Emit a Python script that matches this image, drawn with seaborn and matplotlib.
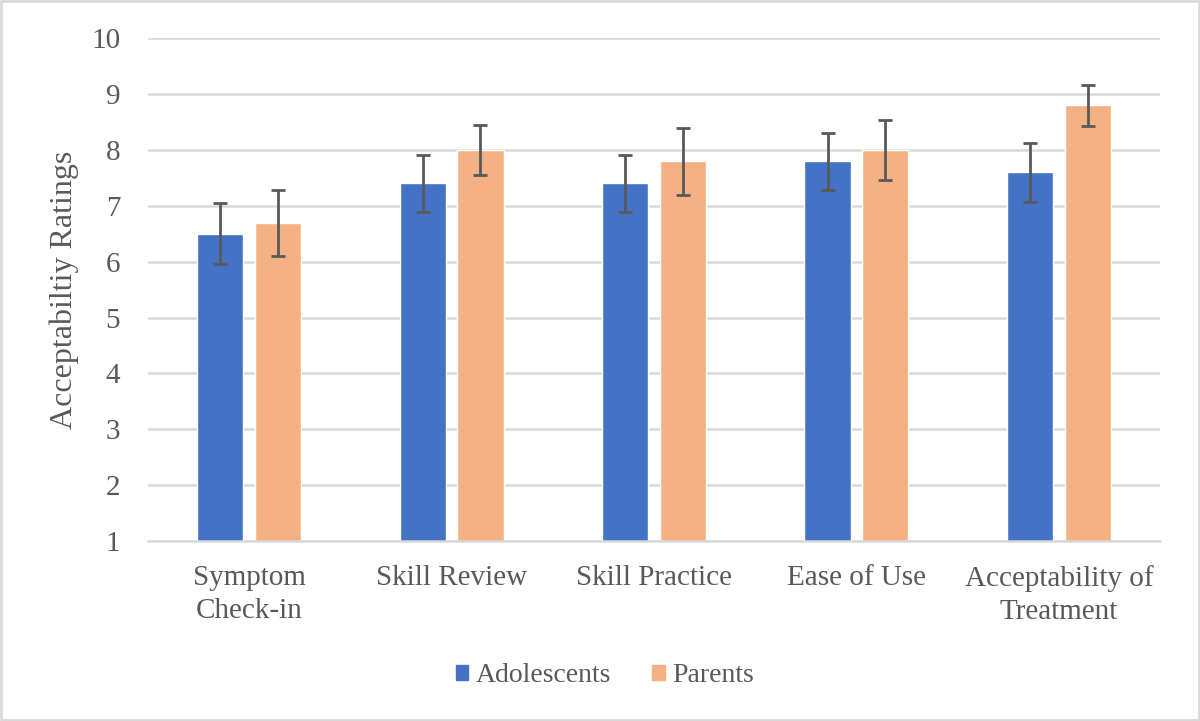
import matplotlib
matplotlib.use("Agg")
import matplotlib.pyplot as plt
from matplotlib.patches import Rectangle
import seaborn as sns
import pandas as pd

## Data
categories = ["Symptom\nCheck-in", "Skill Review", "Skill Practice", "Ease of Use", "Acceptability of\nTreatment"]
groups = ["Adolescents", "Parents"]
adolescent_means = [6.5, 7.4, 7.4, 7.8, 7.6]
parent_means = [6.7, 8.0, 7.8, 8.0, 8.8]
adolescent_err = [0.55, 0.51, 0.51, 0.51, 0.53]
parent_err = [0.59, 0.45, 0.60, 0.53, 0.37]
yticks = list(range(1, 11))

df = pd.DataFrame({
    "category": categories * 2,
    "group": [groups[0]] * len(categories) + [groups[1]] * len(categories),
    "rating": adolescent_means + parent_means,
})
errs = [adolescent_err, parent_err]

sns.set_theme(style="white")
plt.rcParams["font.family"] = ["Liberation Serif", "DejaVu Serif"]
text_col = "#595959"
grid_col = "#D9D9D9"

fig = plt.figure(figsize=(12, 7.21), dpi=100)
ax = fig.add_axes([0.1233, 0.2497, 0.8434, 0.6973])

#Grouped bars, error bars added afterwards from the read-off values
sns.barplot(data=df, x="category", y="rating", hue="group", order=categories, hue_order=groups,
            palette=["#4472C4", "#F4B183"], width=0.57, gap=0.2, errorbar=None,
            saturation=1, ax=ax, zorder=2, legend=False)

for container, err in zip(ax.containers, errs):
    for bar, e in zip(container, err):
        ax.errorbar(bar.get_x() + bar.get_width() / 2, bar.get_height(), yerr=e,
                    fmt="none", ecolor="#595959", elinewidth=2, capsize=5, capthick=2, zorder=3)

ax.set_ylim(1, 10)
ax.set_yticks(yticks)
ax.set_xlim(-0.5, len(categories) - 0.5)
ax.yaxis.grid(True, color=grid_col, lw=1.8)
ax.set_axisbelow(True)
for s in ["top", "right", "left"]:
    ax.spines[s].set_visible(False)
ax.spines["bottom"].set_color(grid_col)
ax.spines["bottom"].set_linewidth(1.8)

ax.tick_params(axis="y", length=0, pad=20, labelsize=21, labelcolor=text_col)
ax.tick_params(axis="x", length=0, pad=17, labelsize=21, labelcolor=text_col)
for lab in ax.get_xticklabels():
    lab.set_linespacing(1.35)
ax.set_xlabel("")
ax.set_ylabel("Acceptabiltiy Ratings", fontsize=23, color=text_col)
ax.yaxis.set_label_coords(-0.068, 0.5)

#Legend centred under the chart
handles = [Rectangle((0, 0), 1, 1, color=c) for c in ["#4472C4", "#F4B183"]]
fig.legend(handles, groups, loc="center", bbox_to_anchor=(0.504, 0.063), ncol=2, frameon=False,
           fontsize=20, handlelength=0.45, handleheight=0.45, handletextpad=0.25, columnspacing=1.5,
           labelcolor=text_col)

#Light border round the whole chart area
fig.patches.append(Rectangle((0.001, 0.001), 0.998, 0.997, transform=fig.transFigure,
                             fill=False, edgecolor=grid_col, lw=2))

fig.savefig("out.png", dpi=100, facecolor="white")
